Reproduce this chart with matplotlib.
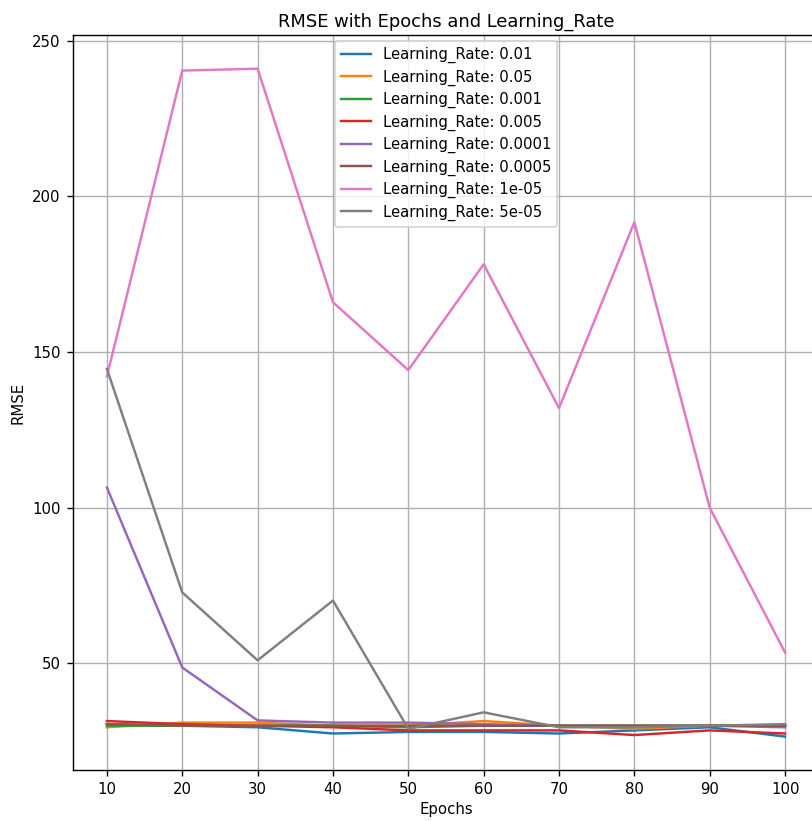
import matplotlib.pyplot as plt

epochs = [10, 20, 30, 40, 50, 60, 70, 80, 90, 100]

learning_rates = ["0.01", "0.05", "0.001", "0.005", "0.0001", "0.0005", "1e-05", "5e-05"]

rmse_001 = [30.5, 30.0, 29.5, 27.5, 28.0, 28.0, 27.5, 28.5, 29.5, 26.5]
rmse_005 = [29.5, 31.0, 31.0, 30.0, 30.0, 31.5, 30.0, 29.0, 30.0, 30.0]
rmse_0001 = [30.0, 30.0, 30.0, 30.0, 29.5, 30.0, 30.0, 30.0, 30.0, 30.0]
rmse_0005 = [31.5, 30.5, 30.0, 29.5, 28.5, 28.5, 28.5, 27.0, 28.5, 27.5]
rmse_00001 = [106.5, 48.7, 31.7, 31.0, 31.0, 30.5, 30.0, 30.0, 30.0, 29.5]
rmse_00005 = [30.5, 30.0, 30.0, 30.0, 30.0, 30.0, 30.0, 30.0, 30.0, 30.0]
rmse_1e05 = [142.2, 240.4, 241.0, 166.0, 144.2, 178.2, 132.0, 191.7, 100.0, 53.5]
rmse_5e05 = [144.6, 72.8, 51.0, 70.2, 29.0, 34.3, 29.5, 29.5, 30.0, 30.5]

results = [rmse_001, rmse_005, rmse_0001, rmse_0005,
           rmse_00001, rmse_00005, rmse_1e05, rmse_5e05]

plt.rcParams["font.size"] = 8.6

fig = plt.figure(figsize=(812 / 125, 821 / 125), dpi=125)
ax = fig.add_axes([0.0899, 0.0621, 0.9187, 0.8949])

for lr, rmse in zip(learning_rates, results):
    ax.plot(epochs, rmse, label="Learning_Rate: " + lr, linewidth=1.4)

ax.set_title("RMSE with Epochs and Learning_Rate", pad=5)
ax.set_xlabel("Epochs", labelpad=3)
ax.set_ylabel("RMSE")
ax.set_xticks(epochs)
ax.grid(True)
ax.legend(loc="upper center", labelspacing=0.42, borderaxespad=0.4)

fig.savefig("out.png", dpi=125)
